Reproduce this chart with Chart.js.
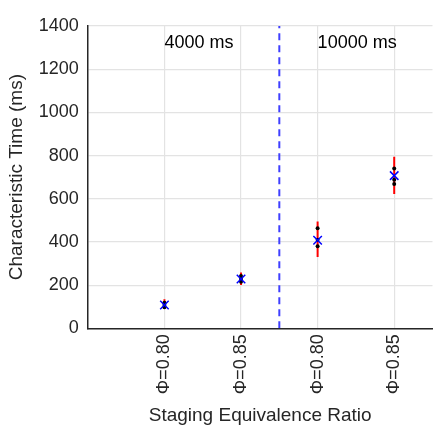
<!DOCTYPE html>
<html lang="en">
<head>
  <meta charset="UTF-8" />
  <title>Characteristic Time</title>
  <script src="https://cdn.jsdelivr.net/npm/chart.js"></script>
  <style>
    * { margin: 0; padding: 0; box-sizing: border-box; }
    body { background: white; overflow: hidden; width: 433px; height: 433px; }
    .chart-container { position: relative; width: 440px; height: 433px; }
  </style>
</head>
<body>
  <div class="chart-container">
    <canvas id="timeChart"></canvas>
  </div>

  <script>
    // Data
    const positions = [1, 2, 3, 4];
    const phiLabels = ["\u03A6=0.80", "\u03A6=0.85", "\u03A6=0.80", "\u03A6=0.85"];
    const meanTime = [108, 228, 408, 707];
    const errLow = [90, 200, 330, 622];
    const errHigh = [135, 258, 495, 795];
    const samples = [
      [98, 108, 118],
      [215, 228, 242],
      [380, 410, 463],
      [668, 688, 740]
    ];
    const yTicks = [0, 200, 400, 600, 800, 1000, 1200, 1400];
    const dividerX = 2.5;
    const groupLabels = ["4000 ms", "10000 ms"];
    const groupStart = [1, 3];

    const font = "'Liberation Sans', Arial, sans-serif";
    const ink = "#262626";

    const datasets = [];

    // Blue mean markers
    datasets.push({
      data: positions.map((x, i) => ({ x: x, y: meanTime[i] })),
      pointStyle: 'crossRot',
      pointRadius: 6,
      borderColor: '#0000ff',
      borderWidth: 1.5,
      showLine: false,
      order: 0
    });

    // Black individual samples
    datasets.push({
      data: positions.flatMap((x, i) => samples[i].map(v => ({ x: x, y: v }))),
      pointStyle: 'circle',
      pointRadius: 2,
      backgroundColor: '#000000',
      borderColor: '#000000',
      borderWidth: 0,
      showLine: false,
      order: 1
    });

    // Red error bars
    positions.forEach((x, i) => {
      datasets.push({
        data: [{ x: x, y: errLow[i] }, { x: x, y: errHigh[i] }],
        showLine: true,
        borderColor: '#ff0000',
        borderWidth: 2,
        pointRadius: 0,
        order: 2
      });
    });

    // Dashed divider
    datasets.push({
      data: [{ x: dividerX, y: yTicks[0] }, { x: dividerX, y: yTicks[yTicks.length - 1] }],
      showLine: true,
      borderColor: '#3f3fff',
      borderWidth: 2,
      borderDash: [7, 5],
      pointRadius: 0,
      order: 3
    });

    const groupText = {
      id: 'groupText',
      afterDatasetsDraw(chart) {
        const ctx = chart.ctx;
        const xs = chart.scales.x, ys = chart.scales.y;
        ctx.save();
        ctx.font = "18px " + font;
        ctx.fillStyle = "#000000";
        ctx.textAlign = 'left';
        ctx.textBaseline = 'middle';
        groupLabels.forEach((t, i) => {
          ctx.fillText(t, xs.getPixelForValue(groupStart[i]), ys.getPixelForValue(1320));
        });
        ctx.restore();
      }
    };

    new Chart(document.getElementById('timeChart'), {
      type: 'scatter',
      data: { datasets: datasets },
      plugins: [groupText],
      options: {
        responsive: true,
        maintainAspectRatio: false,
        animation: false,
        layout: { padding: { top: 26, right: 2, bottom: 2, left: 3 } },
        plugins: { legend: { display: false }, tooltip: { enabled: false } },
        scales: {
          x: {
            type: 'linear',
            min: 0,
            max: 4.5,
            afterBuildTicks(scale) { scale.ticks = positions.map(v => ({ value: v })); },
            ticks: {
              minRotation: 90,
              maxRotation: 90,
              padding: 6,
              color: ink,
              font: { family: font, size: 18 },
              callback: v => phiLabels[positions.indexOf(v)]
            },
            grid: { color: '#e3e3e3', lineWidth: 1.2, drawTicks: false },
            border: { color: ink, width: 1.5 },
            title: {
              display: true,
              text: 'Staging Equivalence Ratio',
              color: ink,
              font: { family: font, size: 19 },
              padding: { top: 4 }
            }
          },
          y: {
            min: 0,
            max: 1400,
            afterBuildTicks(scale) { scale.ticks = yTicks.map(v => ({ value: v })); },
            ticks: {
              padding: 9,
              color: ink,
              font: { family: font, size: 18 },
              callback: v => String(v)
            },
            grid: { color: '#e3e3e3', lineWidth: 1.2, drawTicks: false },
            border: { color: ink, width: 1.5 },
            title: {
              display: true,
              text: 'Characteristic Time (ms)',
              color: ink,
              font: { family: font, size: 19 },
              padding: { top: 2, bottom: 2 }
            }
          }
        }
      }
    });
  </script>
</body>
</html>
